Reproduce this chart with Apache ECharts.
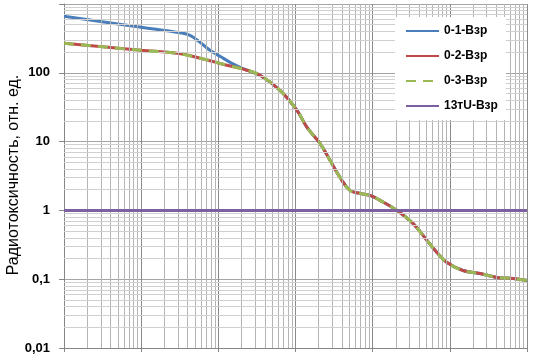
<!DOCTYPE html>
<html>
<head>
<meta charset="utf-8">
<script src="https://cdn.jsdelivr.net/npm/echarts@6/dist/echarts.min.js"></script>
<style>html,body{margin:0;padding:0;background:#fff}#c{width:560px;height:362px}</style>
</head>
<body>
<div id="c"></div>
<script>
// ---- data ----
const seriesNames = ['0-1-Взр', '0-2-Взр', '0-3-Взр', '13тU-Взр'];
const yAxisTitle = 'Радиотоксичность, отн. ед.';
const yTickLabels = {0.01: '0,01', 0.1: '0,1', 1: '1', 10: '10', 100: '100'};

const x01 = [1, 10, 31.9, 42.9, 57.9, 78, 105, 142, 191, 235, 347, 630, 1045, 1409, 2076, 2800, 3773, 5083, 6851, 9230, 12440, 20650, 33280, 50580, 68100, 91800, 148000, 246000, 408000, 658000, 1000000];
const y01 = [664, 459, 382, 351, 278, 212, 174, 142, 120, 109, 92, 55.6, 28.5, 16.1, 9.43, 5.34, 3.02, 1.95, 1.77, 1.65, 1.40, 1.0, 0.647, 0.366, 0.245, 0.175, 0.134, 0.121, 0.106, 0.1025, 0.096];

const x02 = [1, 10, 29.1, 57.9, 129, 235, 347, 630, 1045, 1409, 2076, 2800, 3773, 5083, 6851, 9230, 12440, 20650, 33280, 50580, 68100, 91800, 148000, 246000, 408000, 658000, 1000000];
const y02 = [269, 212, 192, 163, 129, 109, 92, 55.6, 28.5, 16.1, 9.43, 5.34, 3.02, 1.95, 1.77, 1.65, 1.40, 1.0, 0.647, 0.366, 0.245, 0.175, 0.134, 0.121, 0.106, 0.1025, 0.096];

const x03 = [1, 10, 29.1, 57.9, 129, 235, 347, 630, 1045, 1409, 2076, 2800, 3773, 5083, 6851, 9230, 12440, 20650, 33280, 50580, 68100, 91800, 148000, 246000, 408000, 658000, 1000000];
const y03 = [269, 212, 192, 163, 129, 109, 92, 55.6, 28.5, 16.1, 9.43, 5.34, 3.02, 1.95, 1.77, 1.65, 1.40, 1.0, 0.647, 0.366, 0.245, 0.175, 0.134, 0.121, 0.106, 0.1025, 0.096];

const x13 = [1, 1000000];
const y13 = [1, 1];

const xDecades = [1, 10, 100, 1000, 10000, 100000];
const yDecades = [0.01, 0.1, 1, 10, 100];
const minorMult = [2, 3, 4, 5, 6, 7, 8, 9];

// ---- build ----
const pairs = (xs, ys) => xs.map((x, i) => [x, ys[i]]);
const minorX = [], minorY = [];
xDecades.forEach(d => minorMult.forEach(m => minorX.push({xAxis: m * d})));
yDecades.forEach(d => minorMult.forEach(m => minorY.push({yAxis: m * d})));

const colors = ['#4A7EBB', '#BE4B48', '#98B954', '#7D60A0'];
const FONT = 'Liberation Sans';

const chart = echarts.init(document.getElementById('c'), null, {renderer: 'canvas'});
chart.setOption({
  animation: false,
  backgroundColor: '#ffffff',
  grid: {left: 64, right: 33, top: 4, bottom: 14, containLabel: false},
  legend: {
    orient: 'vertical', left: 395, top: 17, z: 20,
    padding: [8, 8, 8, 10], itemGap: 13, itemWidth: 33, itemHeight: 14,
    backgroundColor: '#ffffff',
    data: seriesNames,
    itemStyle: {opacity: 0, borderWidth: 0},
    textStyle: {fontFamily: FONT, fontWeight: 'bold', fontSize: 12, color: '#000'}
  },
  graphic: [{
    type: 'text', x: 14, y: 175, rotation: Math.PI / 2, silent: true,
    style: {text: yAxisTitle, fontFamily: FONT, fontSize: 16, fill: '#000',
      align: 'center', verticalAlign: 'middle'}
  }],
  xAxis: {
    type: 'log', logBase: 10, min: 1, max: 1000000,
    axisLine: {show: true, lineStyle: {color: '#868686', width: 1}},
    axisTick: {show: true, length: 4, lineStyle: {color: '#868686'}},
    axisLabel: {show: false},
    splitLine: {show: true, lineStyle: {color: '#8a8a8a', width: 1}}
  },
  yAxis: {
    type: 'log', logBase: 10, min: 0.01, max: 1000,
    axisLine: {show: true, lineStyle: {color: '#868686', width: 1}},
    axisTick: {show: true, length: 5, lineStyle: {color: '#868686'}},
    axisLabel: {
      margin: 14, fontFamily: FONT, fontWeight: 'bold', fontSize: 13, color: '#000',
      formatter: v => {
        for (const k in yTickLabels) { if (Math.abs(Math.log10(v) - Math.log10(+k)) < 1e-6) return yTickLabels[k]; }
        return '';
      }
    },
    splitLine: {show: true, lineStyle: {color: '#a4a4a4', width: 1}}
  },
  series: [
    {
      name: 'minorX', type: 'line', data: [], z: 1, silent: true,
      markLine: {silent: true, symbol: ['none', 'none'], label: {show: false},
        lineStyle: {color: '#b4b4b4', width: 1, type: 'solid'}, data: minorX}
    },
    {
      name: 'minorY', type: 'line', data: [], z: 1, silent: true,
      markLine: {silent: true, symbol: ['none', 'none'], label: {show: false},
        lineStyle: {color: '#d0d0d0', width: 1, type: 'solid'}, data: minorY}
    },
    {name: seriesNames[0], type: 'line', data: pairs(x01, y01), smooth: 0.4, symbol: 'none', z: 3,
      itemStyle: {color: colors[0]}, lineStyle: {color: colors[0], width: 3}},
    {name: seriesNames[1], type: 'line', data: pairs(x02, y02), smooth: 0.4, symbol: 'none', z: 4,
      itemStyle: {color: colors[1]}, lineStyle: {color: colors[1], width: 3}},
    {name: seriesNames[2], type: 'line', data: pairs(x03, y03), smooth: 0.4, symbol: 'none', z: 5,
      itemStyle: {color: colors[2]}, lineStyle: {color: colors[2], width: 3, type: [10, 7]}},
    {name: seriesNames[3], type: 'line', data: pairs(x13, y13), symbol: 'none', z: 6,
      itemStyle: {color: colors[3]}, lineStyle: {color: colors[3], width: 3}}
  ]
});
</script>
</body>
</html>
